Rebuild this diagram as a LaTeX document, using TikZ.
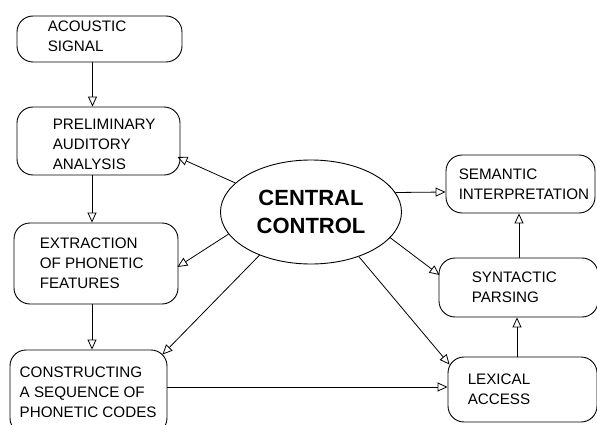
\documentclass[tikz,border=0pt]{standalone}
\usepackage{fontspec}
\setmainfont{Liberation Sans}
\usetikzlibrary{shapes.geometric, arrows.meta, calc, positioning}

\begin{document}
\begin{tikzpicture}[
    x=1pt, y=-1pt,
    box/.style={rectangle, draw, line width=0.9pt, rounded corners=16pt, inner sep=0pt},
    hub/.style={ellipse, draw, line width=0.9pt, minimum width=181pt, minimum height=104pt, inner sep=0pt, align=center, font=\fontsize{22}{28}\selectfont\bfseries},
    txt/.style={anchor=west, inner sep=0pt, align=left, font=\fontsize{15.2}{20}\selectfont},
    arrow/.style={-{Triangle[open, length=10pt, width=9pt]}, line width=0.8pt},
]
\useasboundingbox (0,0) rectangle (597,425);

\node[hub] (central) at (311,212) {CENTRAL\\CONTROL};

\node[box, minimum width=165pt, minimum height=46pt, label={[txt, xshift=31pt, yshift=3pt]west:ACOUSTIC\\SIGNAL}] (acoustic) at (99.5,39) {};
\node[box, minimum width=163pt, minimum height=68pt, label={[txt, xshift=36pt, yshift=-3pt]west:PRELIMINARY\\AUDITORY\\ANALYSIS}] (prelim) at (98.5,141) {};
\node[box, minimum width=164pt, minimum height=81pt, label={[txt, xshift=26pt]west:EXTRACTION\\OF PHONETIC\\FEATURES}] (extract) at (96,263.5) {};
\node[box, minimum width=157pt, minimum height=84pt, label={[txt, xshift=10pt]west:CONSTRUCTING\\A SEQUENCE OF\\PHONETIC CODES}] (construct) at (88.5,392) {};
\node[box, minimum width=149pt, minimum height=58pt, label={[txt, xshift=13pt]west:SEMANTIC\\INTERPRETATION}] (semantic) at (520.5,184) {};
\node[box, minimum width=159pt, minimum height=59pt, label={[txt, xshift=33pt]west:SYNTACTIC\\PARSING}] (syntactic) at (518.5,287.5) {};
\node[box, minimum width=149pt, minimum height=65pt, label={[txt, xshift=20pt]west:LEXICAL\\ACCESS}] (lexical) at (522.5,389.5) {};

% left column
\draw[arrow] ([xshift=-7pt]acoustic.south) -- ([xshift=-6pt]prelim.north);
\draw[arrow] ([xshift=-6.5pt]prelim.south) -- ([xshift=-4pt]extract.north);
\draw[arrow] ([xshift=-4pt]extract.south) -- ([xshift=3.5pt]construct.north);
\draw[arrow] ([yshift=5pt]construct.east) -- ([yshift=2.5pt]lexical.west);

% right column
\draw[arrow] ([xshift=-5.5pt]lexical.north) -- ([xshift=-1.5pt]syntactic.south);
\draw[arrow] ([xshift=0.5pt]syntactic.north) -- ([xshift=-1.5pt]semantic.south);

% from central control
\draw[arrow] (central.159) -- ([xshift=-3pt, yshift=-16pt]prelim.east);
\draw[arrow] (central.195) -- ([xshift=-1pt, yshift=-3.5pt]extract.east);
\draw[arrow] (central.220) -- ([xshift=-5pt, yshift=-5pt]construct.north east);
\draw[arrow] (central.13) -- ([yshift=-8pt]semantic.west);
\draw[arrow] (central.-18) -- ([xshift=1pt, yshift=12.5pt]syntactic.west);
\draw[arrow] (central.-43) -- ([xshift=2pt, yshift=-8pt]lexical.north west);

\end{tikzpicture}
\end{document}
